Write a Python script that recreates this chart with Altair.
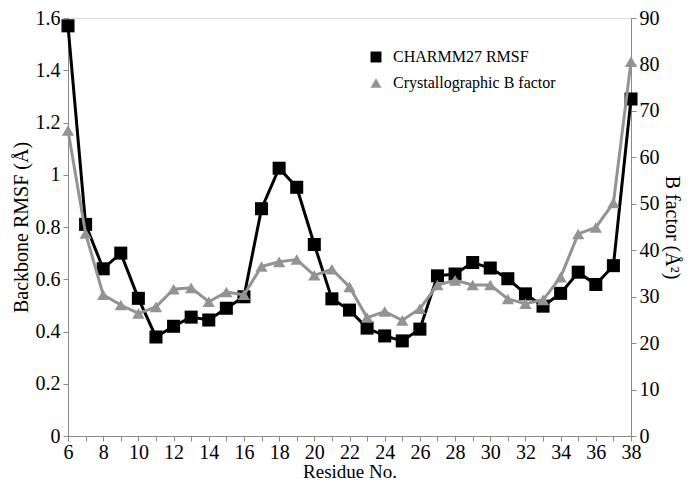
import altair as alt
import pandas as pd

residues = list(range(6, 39))
rmsf = [1.57, 0.81, 0.64, 0.70, 0.527, 0.379, 0.42, 0.455, 0.444, 0.489, 0.533,
        0.87, 1.025, 0.952, 0.733, 0.525, 0.482, 0.413, 0.383, 0.364, 0.409,
        0.613, 0.62, 0.664, 0.643, 0.602, 0.544, 0.497, 0.546, 0.627, 0.580,
        0.652, 1.29]
bfactor = [65.8, 43.6, 30.4, 28.2, 26.4, 27.8, 31.6, 31.9, 28.9, 31.0, 30.4,
           36.5, 37.5, 38.0, 34.6, 35.9, 32.1, 25.5, 26.8, 24.9, 27.4,
           32.5, 33.5, 32.5, 32.5, 29.5, 28.5, 29.3, 34.2, 43.5, 44.9,
           50.2, 80.6]
series_names = ["CHARMM27 RMSF", "Crystallographic B factor"]
series_colors = ["#000000", "#939393"]
series_shapes = ["square", "triangle-up"]

df1 = pd.DataFrame({"res": residues, "val": rmsf, "series": series_names[0]})
df2 = pd.DataFrame({"res": residues, "val": bfactor, "series": series_names[1]})

FONT = "Liberation Serif"
axis_gray = "#8a8a8a"

xenc = alt.X("res:Q", title="Residue No.",
             scale=alt.Scale(domain=[6, 38], nice=False, zero=False),
             axis=alt.Axis(values=residues,
                           labelExpr="datum.value % 2 == 0 ? datum.label : ''",
                           grid=False, labelPadding=1, titlePadding=0, labelFlush=False,
                           titleFontSize=19))

legend_common = dict(title=None, orient="none", legendX=300, legendY=31,
                     labelFont=FONT, labelFontSize=16, labelColor="black",
                     labelLimit=0, rowPadding=10, labelOffset=9)
color = alt.Color("series:N", scale=alt.Scale(domain=series_names, range=series_colors),
                  legend=alt.Legend(symbolSize=120, **legend_common))
shape = alt.Shape("series:N", scale=alt.Scale(domain=series_names, range=series_shapes),
                  legend=alt.Legend(symbolSize=120, **legend_common))

yleft = alt.Y("val:Q", title="Backbone RMSF (Å)",
              scale=alt.Scale(domain=[0, 1.6], nice=False),
              axis=alt.Axis(values=[0, 0.2, 0.4, 0.6, 0.8, 1.0, 1.2, 1.4, 1.6],
                            labelExpr="datum.value == 0 ? '0' : datum.value == 1 ? '1' : datum.label",
                            grid=False, labelPadding=3, titlePadding=4))
yright = alt.Y("val:Q", title="B factor (Å²)",
               scale=alt.Scale(domain=[0, 90], nice=False),
               axis=alt.Axis(orient="right", values=list(range(0, 91, 10)),
                             grid=False, labelPadding=3, titlePadding=2))

line1 = alt.Chart(df1).mark_line(strokeWidth=3, color="black").encode(x=xenc, y=yleft)
pts1 = alt.Chart(df1).mark_point(filled=True, size=170, opacity=1).encode(
    x=xenc, y=yleft, color=color, shape=shape)
left = alt.layer(line1, pts1)

line2 = alt.Chart(df2).mark_line(strokeWidth=3, color="#939393").encode(x=xenc, y=yright)
pts2 = alt.Chart(df2).mark_point(filled=True, size=150, opacity=1).encode(
    x=xenc, y=yright, color=color, shape=shape)
right = alt.layer(line2, pts2)

chart = alt.layer(left, right).resolve_scale(y="independent").properties(
    width=563, height=418,
    autosize=alt.AutoSizeParams(type="none"),
    padding={"left": 60, "top": 10, "right": 53, "bottom": 44},
).configure_view(stroke=None).configure(background="white", font=FONT).configure_axis(
    domainColor=axis_gray, tickColor=axis_gray, tickSize=5,
    labelFont=FONT, titleFont=FONT, labelFontSize=20, titleFontSize=20,
    labelColor="black", titleColor="black", titleFontWeight="normal",
)

chart.save("out.html", embed_options={"renderer": "svg", "actions": False})
